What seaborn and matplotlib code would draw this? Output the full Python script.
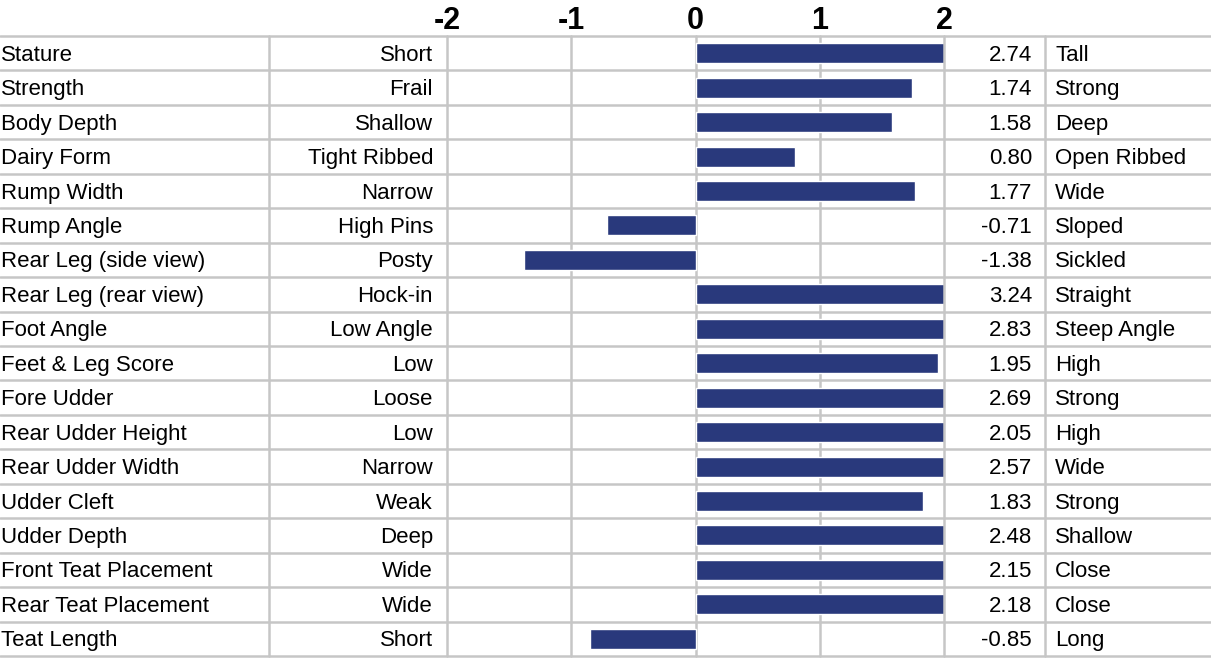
import matplotlib
matplotlib.use("Agg")
import seaborn as sns
from matplotlib import pyplot as plt
from matplotlib import transforms
from matplotlib.lines import Line2D

traits = ["Stature", "Strength", "Body Depth", "Dairy Form", "Rump Width",
          "Rump Angle", "Rear Leg (side view)", "Rear Leg (rear view)",
          "Foot Angle", "Feet & Leg Score", "Fore Udder", "Rear Udder Height",
          "Rear Udder Width", "Udder Cleft", "Udder Depth",
          "Front Teat Placement", "Rear Teat Placement", "Teat Length"]
low_labels = ["Short", "Frail", "Shallow", "Tight Ribbed", "Narrow", "High Pins",
              "Posty", "Hock-in", "Low Angle", "Low", "Loose", "Low", "Narrow",
              "Weak", "Deep", "Wide", "Wide", "Short"]
high_labels = ["Tall", "Strong", "Deep", "Open Ribbed", "Wide", "Sloped",
               "Sickled", "Straight", "Steep Angle", "High", "Strong", "High",
               "Wide", "Strong", "Shallow", "Close", "Close", "Long"]
values = [2.74, 1.74, 1.58, 0.80, 1.77, -0.71, -1.38, 3.24, 2.83, 1.95,
          2.69, 2.05, 2.57, 1.83, 2.48, 2.15, 2.18, -0.85]
ticks = [-2, -1, 0, 1, 2]

bar_color = "#29397c"
line_color = "#c6c6c6"
W, H = 1211, 662

sns.set_style("white")
plt.rcParams['font.family'] = ['Liberation Sans', 'DejaVu Sans']
plt.rcParams['text.color'] = 'black'
plt.rcParams['xtick.color'] = 'black'

fig = plt.figure(figsize=(W / 100, H / 100), dpi=100)
ax = fig.add_axes([447 / W, 6 / H, (944 - 447) / W, 620 / H])
ax.patch.set_visible(False)

sns.barplot(x=values, y=traits, orient="h", color=bar_color, saturation=1,
            width=0.58, ax=ax)

n = len(traits)
ax.set_xlim(-2, 2)
ax.set_ylim(n - 0.5, -0.5)
ax.set_ylabel("")
ax.set_yticks([])
ax.set_xticks(ticks)
ax.xaxis.tick_top()
ax.set_xticklabels([str(t) for t in ticks], fontsize=22, fontweight="bold",
                   color="black")
ax.tick_params(axis="x", length=0, pad=0)
for s in ax.spines.values():
    s.set_visible(False)
for t in ticks:
    ax.axvline(t, color=line_color, lw=1.8, zorder=3 if t == 2 else 0,
               clip_on=False)

# table rows and separators spanning the full width
tr = transforms.blended_transform_factory(fig.transFigure, ax.transData)
for i in range(n + 1):
    fig.add_artist(Line2D([0, 1], [i - 0.5, i - 0.5], transform=tr,
                          color=line_color, lw=1.8, zorder=0))
for xv in [269 / W, 1045 / W]:
    fig.add_artist(Line2D([xv, xv], [-0.5, n - 0.5], transform=tr,
                          color=line_color, lw=1.8, zorder=0))

fs = 16
for i in range(n):
    y = i + 0.06
    fig.text(1 / W, y, traits[i], transform=tr, ha="left", va="center", fontsize=fs)
    fig.text(433 / W, y, low_labels[i], transform=tr, ha="right", va="center", fontsize=fs)
    fig.text(1032 / W, y, f"{values[i]:.2f}", transform=tr, ha="right", va="center", fontsize=fs)
    fig.text(1055 / W, y, high_labels[i], transform=tr, ha="left", va="center", fontsize=fs)

fig.savefig("out.png", dpi=100)
